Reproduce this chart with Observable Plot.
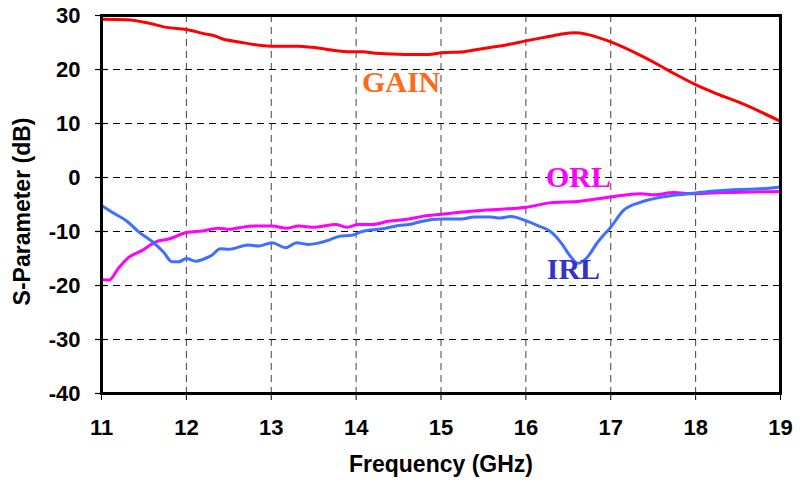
<!DOCTYPE html>
<html>
<head>
<meta charset="utf-8">
<script src="https://cdn.jsdelivr.net/npm/d3@7"></script>
<script src="https://cdn.jsdelivr.net/npm/@observablehq/plot@0.6"></script>
<style>
  html, body { margin: 0; padding: 0; background: #fff; }
  #chart svg { display: block; }
</style>
</head>
<body>
<div id="chart"></div>
<script>
const xTicks = [11, 12, 13, 14, 15, 16, 17, 18, 19];
const yTicks = [30, 20, 10, 0, -10, -20, -30, -40];

const gainFreq = [11.0, 11.3, 11.55, 11.77, 12.0, 12.22, 12.32, 12.42, 12.62, 13.0, 13.32, 13.48, 13.9, 14.07, 14.23, 14.58, 14.85, 15.01, 15.27, 15.54, 15.78, 16.0, 16.2, 16.4, 16.58, 16.72, 17.0, 17.35, 17.58, 17.74, 18.0, 18.25, 18.53, 18.76, 19.0];
const gainDb   = [29.3, 29.2, 28.6, 27.8, 27.4, 26.6, 26.3, 25.7, 25.1, 24.3, 24.3, 24.1, 23.3, 23.3, 23.0, 22.8, 22.8, 23.1, 23.3, 24.0, 24.6, 25.3, 25.9, 26.5, 26.8, 26.5, 25.1, 22.6, 20.7, 19.3, 17.2, 15.5, 13.8, 12.2, 10.4];

const orlFreq = [11.0, 11.09, 11.2, 11.32, 11.48, 11.64, 11.79, 12.0, 12.19, 12.38, 12.5, 12.62, 12.81, 13.01, 13.19, 13.32, 13.52, 13.76, 13.89, 14.03, 14.19, 14.38, 14.62, 14.78, 15.01, 15.39, 15.78, 16.01, 16.28, 16.64, 17.0, 17.35, 17.51, 17.74, 17.98, 18.33, 19.0];
const orlDb   = [-18.9, -19.0, -16.8, -14.8, -13.5, -11.9, -11.4, -10.2, -9.9, -9.4, -9.6, -9.3, -9.0, -9.0, -9.4, -9.0, -9.2, -8.7, -9.2, -8.7, -8.7, -8.1, -7.7, -7.2, -6.8, -6.2, -5.8, -5.5, -4.7, -4.4, -3.6, -3.0, -3.2, -2.8, -3.0, -2.8, -2.6];

const irlFreq = [11.0, 11.12, 11.3, 11.44, 11.6, 11.73, 11.83, 11.91, 12.0, 12.11, 12.22, 12.3, 12.4, 12.5, 12.73, 12.85, 13.01, 13.17, 13.3, 13.44, 13.68, 13.8, 13.95, 14.07, 14.31, 14.5, 14.66, 14.78, 15.01, 15.24, 15.39, 15.59, 15.69, 15.83, 15.98, 16.14, 16.3, 16.42, 16.53, 16.61, 16.71, 16.85, 17.0, 17.15, 17.35, 17.54, 17.74, 17.98, 18.21, 18.53, 18.76, 18.92, 19.0];
const irlDb   = [-5.2, -6.4, -8.1, -10.1, -11.9, -13.8, -15.6, -15.6, -15.0, -15.5, -15.0, -14.4, -13.2, -13.3, -12.5, -12.7, -12.1, -13.0, -12.1, -12.4, -11.6, -10.9, -10.7, -10.0, -9.5, -8.9, -8.6, -8.1, -7.7, -7.7, -7.3, -7.3, -7.5, -7.2, -7.9, -8.9, -10.1, -12.2, -14.7, -15.9, -15.0, -11.9, -9.2, -6.1, -4.6, -3.8, -3.3, -2.9, -2.5, -2.2, -2.1, -1.9, -1.7];

const seriesLabels = [
  {name: "GAIN", f: 14.53, db: 17.6, color: "#FF6A1A"},
  {name: "ORL",  f: 16.62, db: 0.0,  color: "#FF00FF"},
  {name: "IRL",  f: 16.56, db: -17.0, color: "#3333CC"}
];

const toRows = (fs, ds) => fs.map((f, i) => ({f, db: ds[i]}));
const gain = toRows(gainFreq, gainDb);
const orl = toRows(orlFreq, orlDb);
const irl = toRows(irlFreq, irlDb);

const font = "'Liberation Sans', Arial, sans-serif";
const fmt = d => String(d);

const chart = Plot.plot({
  width: 802,
  height: 488,
  marginLeft: 101,
  marginRight: 22,
  marginTop: 15,
  marginBottom: 95,
  style: {fontFamily: font, background: "#fff", overflow: "visible"},
  x: {domain: [11, 19], ticks: xTicks},
  y: {domain: [-40, 30], ticks: yTicks},
  marks: [
    Plot.gridX(xTicks.slice(1, -1), {stroke: "#000", strokeOpacity: 0.75, strokeWidth: 1, strokeDasharray: "7,5"}),
    Plot.gridY(yTicks.slice(1, -1), {stroke: "#000", strokeOpacity: 1, strokeWidth: 1, strokeDasharray: "7,5"}),
    Plot.line(orl, {x: "f", y: "db", stroke: "#FF00FF", strokeWidth: 3, curve: "monotone-x"}),
    Plot.line(irl, {x: "f", y: "db", stroke: "#3F6FFF", strokeWidth: 3, curve: "monotone-x"}),
    Plot.line(gain, {x: "f", y: "db", stroke: "#FF0000", strokeWidth: 3, curve: "monotone-x"}),
    Plot.text(seriesLabels, {x: "f", y: "db", text: "name", fill: "color", fontFamily: "'Liberation Serif', 'Times New Roman', serif", fontWeight: "bold", fontSize: 30}),
    Plot.ruleY(yTicks, {y: d => d, x1: 11, x2: 11, insetLeft: -6, insetRight: -6, stroke: "#000", strokeWidth: 1.2}),
    Plot.axisY(yTicks, {tickSize: 0, tickPadding: 21, fontSize: 22, fontWeight: "bold", fill: "#000", label: null, tickFormat: fmt}),
    Plot.axisX(xTicks, {tickSize: 7, tickPadding: 19, fontSize: 22, fontWeight: "bold", fill: "#000", label: null, stroke: "#000", tickFormat: fmt}),
    Plot.frame({stroke: "#000", strokeWidth: 3}),
    Plot.text(["Frequency (GHz)"], {frameAnchor: "bottom", lineAnchor: "top", textAnchor: "middle", dy: 62, fontSize: 23, fontWeight: "bold", fill: "#000"}),
    Plot.text(["S-Parameter (dB)"], {frameAnchor: "left", textAnchor: "middle", rotate: -90, dx: -79, dy: 7, fontSize: 23, fontWeight: "bold", fill: "#000"})
  ]
});

document.getElementById("chart").appendChild(chart);
</script>
</body>
</html>
